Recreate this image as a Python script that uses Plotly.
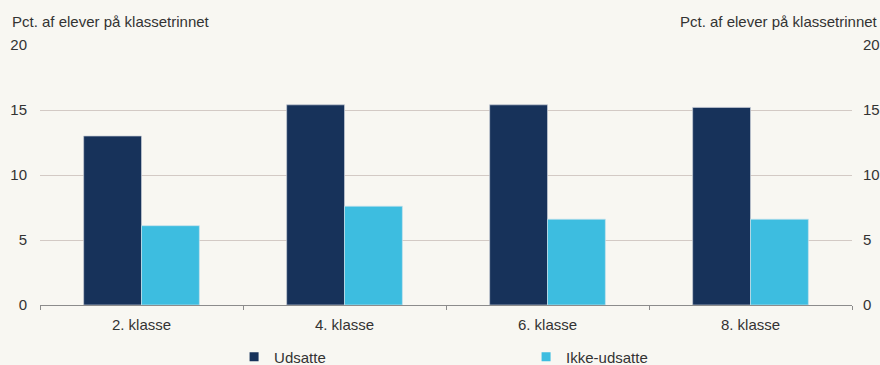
import plotly.graph_objects as go

# Andel elever pr. klassetrin
categories = ["2. klasse", "4. klasse", "6. klasse", "8. klasse"]
udsatte = [13.0, 15.4, 15.4, 15.2]
ikke_udsatte = [6.1, 7.6, 6.6, 6.6]
y_ticks = [0, 5, 10, 15, 20]
axis_title = "Pct. af elever på klassetrinnet"
series_names = ["Udsatte", "Ikke-udsatte"]

DARK = "#17325a"
LIGHT = "#3dbde0"
BG = "#f8f7f2"
GRID = "#d3cac5"
TEXT = "#333333"
FONT = "Liberation Sans, Arial, sans-serif"
FS = 15

fig = go.Figure()
for name, vals, col, edge in [
    (series_names[0], udsatte, DARK, "rgba(200,205,215,0.7)"),
    (series_names[1], ikke_udsatte, LIGHT, "rgba(200,225,235,0.7)"),
]:
    fig.add_trace(go.Bar(
        x=categories, y=vals, name=name, showlegend=False,
        marker=dict(color=col, line=dict(color=edge, width=1)),
    ))
    # small square legend key
    fig.add_trace(go.Scatter(
        x=[None], y=[None], name=name, mode="markers",
        marker=dict(symbol="square", size=9, color=col),
    ))

# invisible trace that carries the right-hand axis
fig.add_trace(go.Scatter(
    x=categories, y=udsatte, yaxis="y2", mode="markers",
    marker=dict(opacity=0), showlegend=False, hoverinfo="skip",
))

fig.update_layout(
    width=880, height=365,
    margin=dict(l=40, r=28, t=45, b=60),
    paper_bgcolor=BG, plot_bgcolor=BG,
    font=dict(family=FONT, size=FS, color=TEXT),
    barmode="group", bargap=0.43, bargroupgap=0,
    showlegend=True,
    legend=dict(
        orientation="h", xref="container", x=0.266, xanchor="left",
        yref="container", y=0.022, yanchor="middle",
        entrywidth=247, entrywidthmode="pixels",
        font=dict(size=FS, color=TEXT), bgcolor="rgba(0,0,0,0)",
        traceorder="normal", borderwidth=0,
    ),
    xaxis=dict(
        showgrid=False, showline=True, linecolor="#8c8c8c", linewidth=1,
        ticks="outside", tickson="boundaries", ticklen=4, tickcolor="#8c8c8c",
        ticklabelstandoff=6, automargin=False,
        tickfont=dict(size=FS, color=TEXT),
    ),
    yaxis=dict(
        range=[0, 20], tickvals=y_ticks, showgrid=True, gridcolor=GRID, gridwidth=1,
        zeroline=False, showline=False, ticks="", ticklabelstandoff=12,
        automargin=False, tickfont=dict(size=FS, color=TEXT),
    ),
    yaxis2=dict(
        range=[0, 20], tickvals=y_ticks, overlaying="y", side="right",
        showgrid=False, zeroline=False, showline=False, ticks="", ticklabelstandoff=10,
        automargin=False, tickfont=dict(size=FS, color=TEXT),
    ),
    annotations=[
        dict(text=axis_title, xref="paper", yref="paper", x=-0.037, y=1.0,
             xanchor="left", yanchor="bottom", yshift=13, showarrow=False,
             font=dict(size=FS, color=TEXT)),
        dict(text=axis_title, xref="paper", yref="paper", x=1.034, y=1.0,
             xanchor="right", yanchor="bottom", yshift=13, showarrow=False,
             font=dict(size=FS, color=TEXT)),
    ],
)

fig.write_html("out.html")
